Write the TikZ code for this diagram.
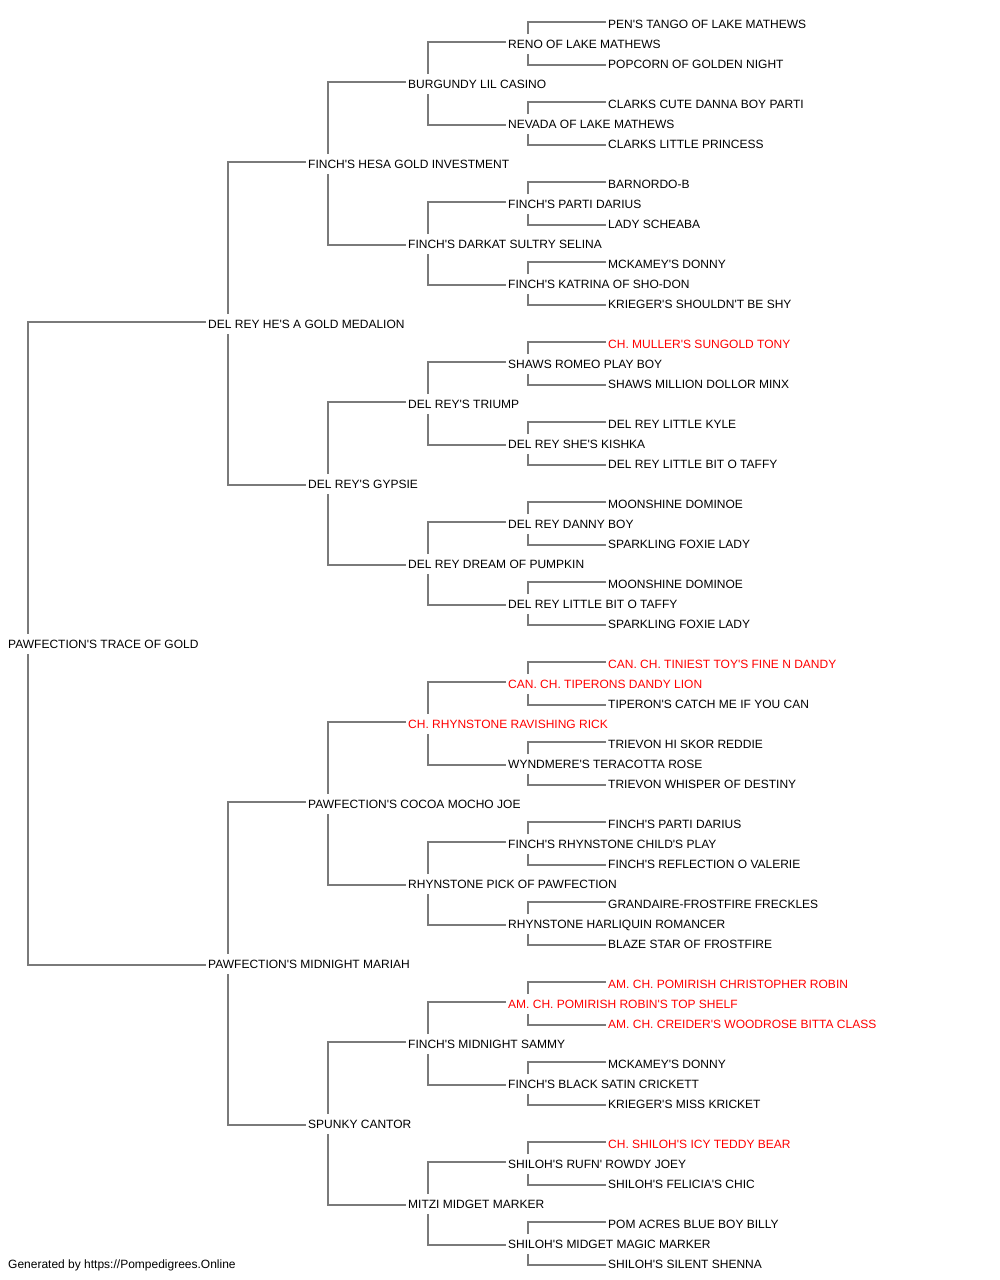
\documentclass[tikz,border=0pt]{standalone}
\usepackage{fontspec}
\setmainfont{Liberation Sans}[Ligatures=TeXOff]
\usetikzlibrary{backgrounds}
\definecolor{pedred}{RGB}{255,0,0}
\definecolor{linegray}{RGB}{122,122,122}
\begin{document}
\begin{tikzpicture}[x=1pt,y=-1pt,
  nm/.style={anchor=base west,fill=white,inner xsep=0pt,inner ysep=3pt,text height=11.5pt,text depth=3pt,font=\fontsize{12}{14}\selectfont,text=black},
  ch/.style={nm,text=pedred},
  conn/.style={draw=linegray,line width=1.2pt}]
\useasboundingbox (0,0) rectangle (1000,1280);
% generation 0
\node[nm] (f0) at (8,648) {PAWFECTION'S TRACE OF GOLD};
% generation 1
\node[nm] (e0) at (208,328) {DEL REY HE'S A GOLD MEDALION};
\node[nm] (e1) at (208,968) {PAWFECTION'S MIDNIGHT MARIAH};
% generation 2
\node[nm] (d0) at (308,168) {FINCH'S HESA GOLD INVESTMENT};
\node[nm] (d1) at (308,488) {DEL REY'S GYPSIE};
\node[nm] (d2) at (308,808) {PAWFECTION'S COCOA MOCHO JOE};
\node[nm] (d3) at (308,1128) {SPUNKY CANTOR};
% generation 3
\node[nm] (c0) at (408,88) {BURGUNDY LIL CASINO};
\node[nm] (c1) at (408,248) {FINCH'S DARKAT SULTRY SELINA};
\node[nm] (c2) at (408,408) {DEL REY'S TRIUMP};
\node[nm] (c3) at (408,568) {DEL REY DREAM OF PUMPKIN};
\node[ch] (c4) at (408,728) {CH. RHYNSTONE RAVISHING RICK};
\node[nm] (c5) at (408,888) {RHYNSTONE PICK OF PAWFECTION};
\node[nm] (c6) at (408,1048) {FINCH'S MIDNIGHT SAMMY};
\node[nm] (c7) at (408,1208) {MITZI MIDGET MARKER};
% generation 4
\node[nm] (b0) at (508,48) {RENO OF LAKE MATHEWS};
\node[nm] (b1) at (508,128) {NEVADA OF LAKE MATHEWS};
\node[nm] (b2) at (508,208) {FINCH'S PARTI DARIUS};
\node[nm] (b3) at (508,288) {FINCH'S KATRINA OF SHO-DON};
\node[nm] (b4) at (508,368) {SHAWS ROMEO PLAY BOY};
\node[nm] (b5) at (508,448) {DEL REY SHE'S KISHKA};
\node[nm] (b6) at (508,528) {DEL REY DANNY BOY};
\node[nm] (b7) at (508,608) {DEL REY LITTLE BIT O TAFFY};
\node[ch] (b8) at (508,688) {CAN. CH. TIPERONS DANDY LION};
\node[nm] (b9) at (508,768) {WYNDMERE'S TERACOTTA ROSE};
\node[nm] (b10) at (508,848) {FINCH'S RHYNSTONE CHILD'S PLAY};
\node[nm] (b11) at (508,928) {RHYNSTONE HARLIQUIN ROMANCER};
\node[ch] (b12) at (508,1008) {AM. CH. POMIRISH ROBIN'S TOP SHELF};
\node[nm] (b13) at (508,1088) {FINCH'S BLACK SATIN CRICKETT};
\node[nm] (b14) at (508,1168) {SHILOH'S RUFN' ROWDY JOEY};
\node[nm] (b15) at (508,1248) {SHILOH'S MIDGET MAGIC MARKER};
% generation 5
\node[nm] (a0) at (608,28) {PEN'S TANGO OF LAKE MATHEWS};
\node[nm] (a1) at (608,68) {POPCORN OF GOLDEN NIGHT};
\node[nm] (a2) at (608,108) {CLARKS CUTE DANNA BOY PARTI};
\node[nm] (a3) at (608,148) {CLARKS LITTLE PRINCESS};
\node[nm] (a4) at (608,188) {BARNORDO-B};
\node[nm] (a5) at (608,228) {LADY SCHEABA};
\node[nm] (a6) at (608,268) {MCKAMEY'S DONNY};
\node[nm] (a7) at (608,308) {KRIEGER'S SHOULDN'T BE SHY};
\node[ch] (a8) at (608,348) {CH. MULLER'S SUNGOLD TONY};
\node[nm] (a9) at (608,388) {SHAWS MILLION DOLLOR MINX};
\node[nm] (a10) at (608,428) {DEL REY LITTLE KYLE};
\node[nm] (a11) at (608,468) {DEL REY LITTLE BIT O TAFFY};
\node[nm] (a12) at (608,508) {MOONSHINE DOMINOE};
\node[nm] (a13) at (608,548) {SPARKLING FOXIE LADY};
\node[nm] (a14) at (608,588) {MOONSHINE DOMINOE};
\node[nm] (a15) at (608,628) {SPARKLING FOXIE LADY};
\node[ch] (a16) at (608,668) {CAN. CH. TINIEST TOY'S FINE N DANDY};
\node[nm] (a17) at (608,708) {TIPERON'S CATCH ME IF YOU CAN};
\node[nm] (a18) at (608,748) {TRIEVON HI SKOR REDDIE};
\node[nm] (a19) at (608,788) {TRIEVON WHISPER OF DESTINY};
\node[nm] (a20) at (608,828) {FINCH'S PARTI DARIUS};
\node[nm] (a21) at (608,868) {FINCH'S REFLECTION O VALERIE};
\node[nm] (a22) at (608,908) {GRANDAIRE-FROSTFIRE FRECKLES};
\node[nm] (a23) at (608,948) {BLAZE STAR OF FROSTFIRE};
\node[ch] (a24) at (608,988) {AM. CH. POMIRISH CHRISTOPHER ROBIN};
\node[ch] (a25) at (608,1028) {AM. CH. CREIDER'S WOODROSE BITTA CLASS};
\node[nm] (a26) at (608,1068) {MCKAMEY'S DONNY};
\node[nm] (a27) at (608,1108) {KRIEGER'S MISS KRICKET};
\node[ch] (a28) at (608,1148) {CH. SHILOH'S ICY TEDDY BEAR};
\node[nm] (a29) at (608,1188) {SHILOH'S FELICIA'S CHIC};
\node[nm] (a30) at (608,1228) {POM ACRES BLUE BOY BILLY};
\node[nm] (a31) at (608,1268) {SHILOH'S SILENT SHENNA};
% footer
\node[nm] (foot) at (8,1268) {Generated by https://Pompedigrees.Online};
% connectors
\begin{scope}[on background layer]
\newcommand\pedconn[3]{\draw[conn] ([xshift=-2pt,yshift=6pt]#2.base west) -| ([xshift=20pt]#1.base west) |- ([xshift=-2pt,yshift=3pt]#3.base west);}
\pedconn{f0}{e0}{e1}
\pedconn{e0}{d0}{d1}
\pedconn{e1}{d2}{d3}
\foreach \i in {0,...,3}{
  \pgfmathtruncatemacro\ta{2*\i}\pgfmathtruncatemacro\tb{2*\i+1}
  \pedconn{d\i}{c\ta}{c\tb}}
\foreach \i in {0,...,7}{
  \pgfmathtruncatemacro\ta{2*\i}\pgfmathtruncatemacro\tb{2*\i+1}
  \pedconn{c\i}{b\ta}{b\tb}}
\foreach \i in {0,...,15}{
  \pgfmathtruncatemacro\ta{2*\i}\pgfmathtruncatemacro\tb{2*\i+1}
  \pedconn{b\i}{a\ta}{a\tb}}
\end{scope}
\end{tikzpicture}
\end{document}
